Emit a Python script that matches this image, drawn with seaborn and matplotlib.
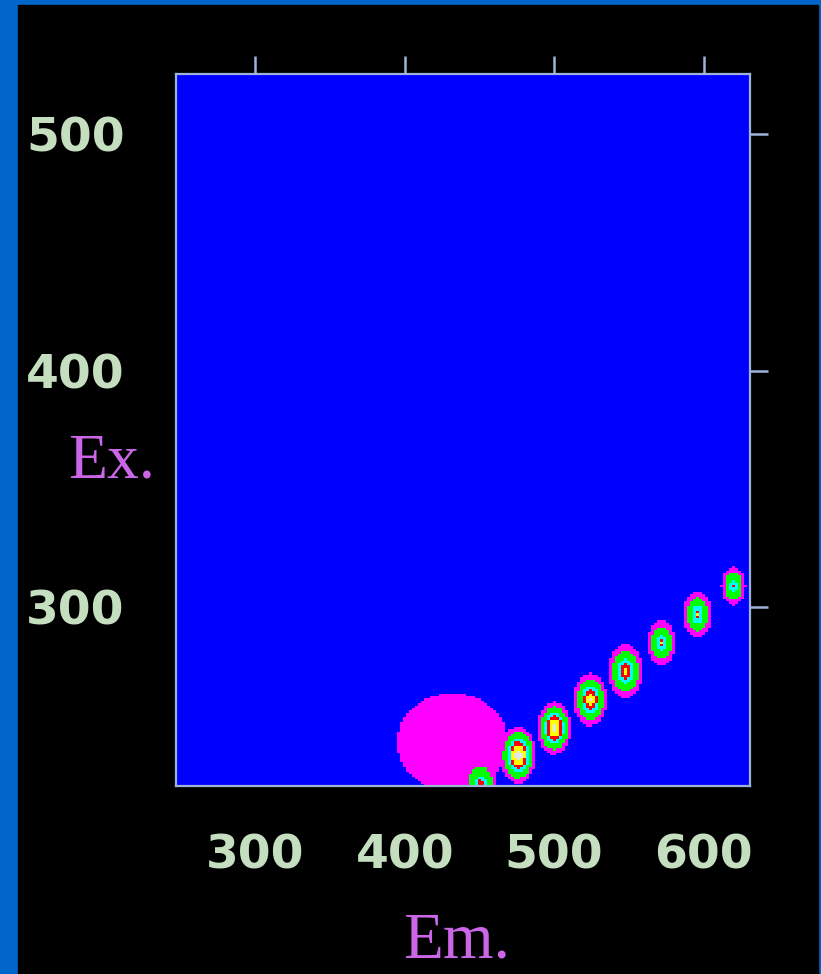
import numpy as np
import pandas as pd
import matplotlib
matplotlib.use("Agg")
import matplotlib.pyplot as plt
from matplotlib.colors import ListedColormap, BoundaryNorm
from matplotlib.patches import Rectangle
import seaborn as sns

# excitation-emission map, read off the picture as a set of peaks
# broad band (magenta plateau)
band_em, band_ex, band_amp, band_sig = 432, 243, 1.5, (41, 23)
# scatter spots along Em = 2 x Ex (peak height, base radius in nm)
peak_em = [451, 476, 500, 524, 548, 572, 596, 620]
peak_ex = [224, 237.5, 249, 261, 273, 285, 297, 309]
peak_amp = [7.0, 10.0, 10.0, 9.06, 8.18, 7.43, 7.36, 6.77]
peak_radius = [11.0, 12.2, 11.9, 12.4, 12.9, 10.75, 11.2, 9.4]

em = np.arange(248, 632, 2)
ex = np.arange(225, 526, 1)
em_ticks = [300, 400, 500, 600]
ex_ticks = [300, 400, 500]

EE, XX = np.meshgrid(em, ex)
z = band_amp * np.exp(-((EE - band_em) ** 2) / (2 * band_sig[0] ** 2)
                      - ((XX - band_ex) ** 2) / (2 * band_sig[1] ** 2))
for e0, x0, a, rad in zip(peak_em, peak_ex, peak_amp, peak_radius):
    r = np.hypot(EE - e0, XX - x0)
    z += a * np.clip(1 - r / rad, 0, None)
df = pd.DataFrame(z, index=ex, columns=em)

levels = [-1, 1, 2.69, 4.96, 6.05, 7.23, 8.9, 100]
colors = ["#0000FF", "#FF00FF", "#00FF00", "#00FFFF", "#FF0000", "#FFFF00", "#E6E6E6"]
cmap = ListedColormap(colors)
norm = BoundaryNorm(levels, cmap.N)

sns.set_style("dark")
fig = plt.figure(figsize=(8.21, 9.74), dpi=100, facecolor="#0066CC")
fig.add_artist(Rectangle((18 / 821, 0), 800 / 821, 969 / 974,
                         transform=fig.transFigure, color="black", zorder=-1))
ax = fig.add_axes([176 / 821, 188 / 974, 574 / 821, 712 / 974])

sns.heatmap(df, ax=ax, cmap=cmap, norm=norm, cbar=False,
            xticklabels=False, yticklabels=False, linewidths=0)
ax.invert_yaxis()

def em_pos(v):
    return (v - em[0]) / 2 + 0.5

def ex_pos(v):
    return (v - ex[0]) / 1 + 0.5

ax.set_xticks([em_pos(v) for v in em_ticks])
ax.set_xticklabels([str(v) for v in em_ticks])
ax.set_yticks([ex_pos(v) for v in ex_ticks])
ax.set_yticklabels([str(v) for v in ex_ticks])
ax.set_xlim(0, len(em))
ax.set_ylim(0, len(ex))

edge = "#9DB4D8"
for s in ax.spines.values():
    s.set_visible(True)
    s.set_color(edge)
    s.set_linewidth(1.6)

ax.tick_params(direction="out", top=True, right=True, labeltop=False,
               labelright=False, length=13, width=1.8, color=edge,
               labelcolor="#C5DEC0")
ax.tick_params(axis="x", pad=21)
ax.tick_params(axis="y", pad=24)
# left ticks are a little shorter in the original
for t in ax.yaxis.get_major_ticks():
    t.tick1line.set_markersize(10)
for lab in ax.get_xticklabels() + ax.get_yticklabels():
    lab.set_fontsize(34)
    lab.set_fontweight("bold")
    lab.set_rotation(0)
ax.set_xlabel("")
ax.set_ylabel("")

fig.text(457 / 821, (974 - 957) / 974, "Em.", ha="center", va="baseline",
         fontsize=47, color="#CC66E8", family="Liberation Serif")
fig.text(112 / 821, (974 - 477) / 974, "Ex.", ha="center", va="baseline",
         fontsize=46, color="#CC66E8", family="Liberation Serif")

fig.savefig("out.png", dpi=100)
